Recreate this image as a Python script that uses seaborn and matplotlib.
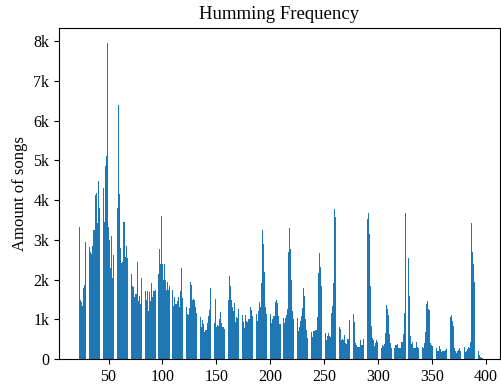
import matplotlib
matplotlib.use('Agg')
import matplotlib.pyplot as plt
import seaborn as sns
import pandas as pd
from matplotlib.ticker import FuncFormatter, MultipleLocator

# Humming frequency bins (x) and number of songs in each bin
bins = list(range(23, 398))
counts = [
    # 23-49
    3330, 1480, 1440, 1330, 1790, 1860, 2940, 3550, 2340, 2810, 2700, 2640, 2840, 3250,
    3250, 4130, 4180, 3410, 4480, 3790, 4420, 3450, 4300, 3450, 4860, 5110, 7960,
    # 50-59
    3310, 3000, 2290, 3090, 2040, 2620, 2300, 2620, 3790, 6390,
    # 60-99
    4150, 2790, 2410, 2430, 3450, 3450, 2560, 2840, 2550, 2360,
    2110, 2130, 1840, 1800, 1570, 1630, 1630, 2430, 1470, 1580,
    1380, 2040, 1650, 1650, 1700, 1480, 1720, 1200, 1680, 1470,
    1910, 1570, 1700, 1710, 1730, 2070, 2140, 2760, 2390, 3610,
    # 100-130
    2390, 2000, 2400, 2000, 1730, 1930, 1730, 1840, 1860, 1730,
    1340, 1550, 1390, 1390, 1460, 1570, 1310, 1700, 2300, 1530,
    1290, 1460, 1300, 1120, 1100, 1290, 1930, 1860, 1480, 1500, 1480,
    # 131-167
    1300, 1150, 1060, 980, 1060, 810, 980, 880, 690, 740,
    730, 900, 1080, 1230, 1780, 1610, 1270, 900, 1510, 810,
    860, 830, 1000, 1180, 900, 800, 800, 760, 1150, 1230,
    1480, 2090, 1840, 1480, 1320, 1200, 1420,
    # 168-203
    930, 1050, 1020, 1250, 1820, 1330, 1100, 930, 780, 1100,
    950, 930, 1000, 1000, 1300, 1230, 1080, 870, 930, 1130,
    960, 1200, 1440, 1300, 1920, 3250, 2890, 2190, 1300, 1130,
    980, 1200, 1130, 900, 1000, 1080,
    # 204-240
    1080, 1440, 1480, 1400, 1080, 880, 870, 810, 1030, 900,
    1030, 1100, 1250, 2690, 3300, 2760, 2000, 1200, 1000, 830,
    850, 1030, 700, 800, 950, 1080, 1280, 1780, 1580, 1000,
    730, 530, 600, 500, 680, 550, 700,
    # 241-278
    700, 720, 730, 1050, 2160, 2660, 2310, 1830, 980, 730,
    650, 490, 580, 650, 580, 550, 1160, 1330, 1920, 3770,
    3560, 2510, 1380, 800, 760, 490, 500, 470, 600, 410,
    380, 500, 500, 980, 1380, 1280, 1130, 920,
    # 279-315
    400, 340, 290, 290, 290, 490, 340, 340, 500, 650,
    2360, 3510, 3670, 3140, 1830, 830, 520, 490, 330, 400,
    490, 430, 330, 300, 280, 350, 330, 380, 650, 1360,
    1260, 1100, 630, 400, 270, 300, 280,
    # 316-351
    340, 340, 380, 280, 280, 280, 430, 430, 630, 1160,
    3680, 3550, 2540, 1580, 580, 380, 440, 270, 270, 270,
    430, 300, 270, 270, 270, 310, 270, 400, 670, 1380,
    1450, 1250, 1230, 400, 350, 330,
    # 352-397
    330, 300, 270, 190, 190, 330, 240, 170, 190, 200,
    190, 220, 250, 400, 1080, 1050, 1100, 950, 830, 280,
    200, 150, 200, 220, 270, 200, 140, 160, 290, 180,
    200, 250, 290, 270, 440, 3430, 2690, 2390, 1940, 1670,
    400, 200, 110, 60, 30, 20,
]

plt.rcParams['font.family'] = ['Liberation Serif', 'DejaVu Serif']

fig = plt.figure(figsize=(5.02, 3.85), dpi=100)
ax = fig.add_axes([59 / 502, 26 / 385, 441 / 502, 331.3 / 385])

df = pd.DataFrame({'freq': bins, 'songs': counts})
sns.barplot(data=df, x='freq', y='songs', native_scale=True, color='#1f77b4',
            saturation=1, errorbar=None, width=0.8, linewidth=0, ax=ax)

ax.set_xlim(4.06, 413.3)
ax.set_ylim(0, 8335)
ax.xaxis.set_major_locator(MultipleLocator(50))
ax.yaxis.set_major_locator(MultipleLocator(1000))
ax.yaxis.set_major_formatter(FuncFormatter(lambda v, p: '0' if v == 0 else f'{int(round(v / 1000))}k'))
ax.set_title('Humming Frequency', fontsize=13.5)
ax.set_ylabel('Amount of songs', fontsize=12)
ax.set_xlabel('')
ax.tick_params(labelsize=11.5)

fig.savefig('out.png', dpi=100)
